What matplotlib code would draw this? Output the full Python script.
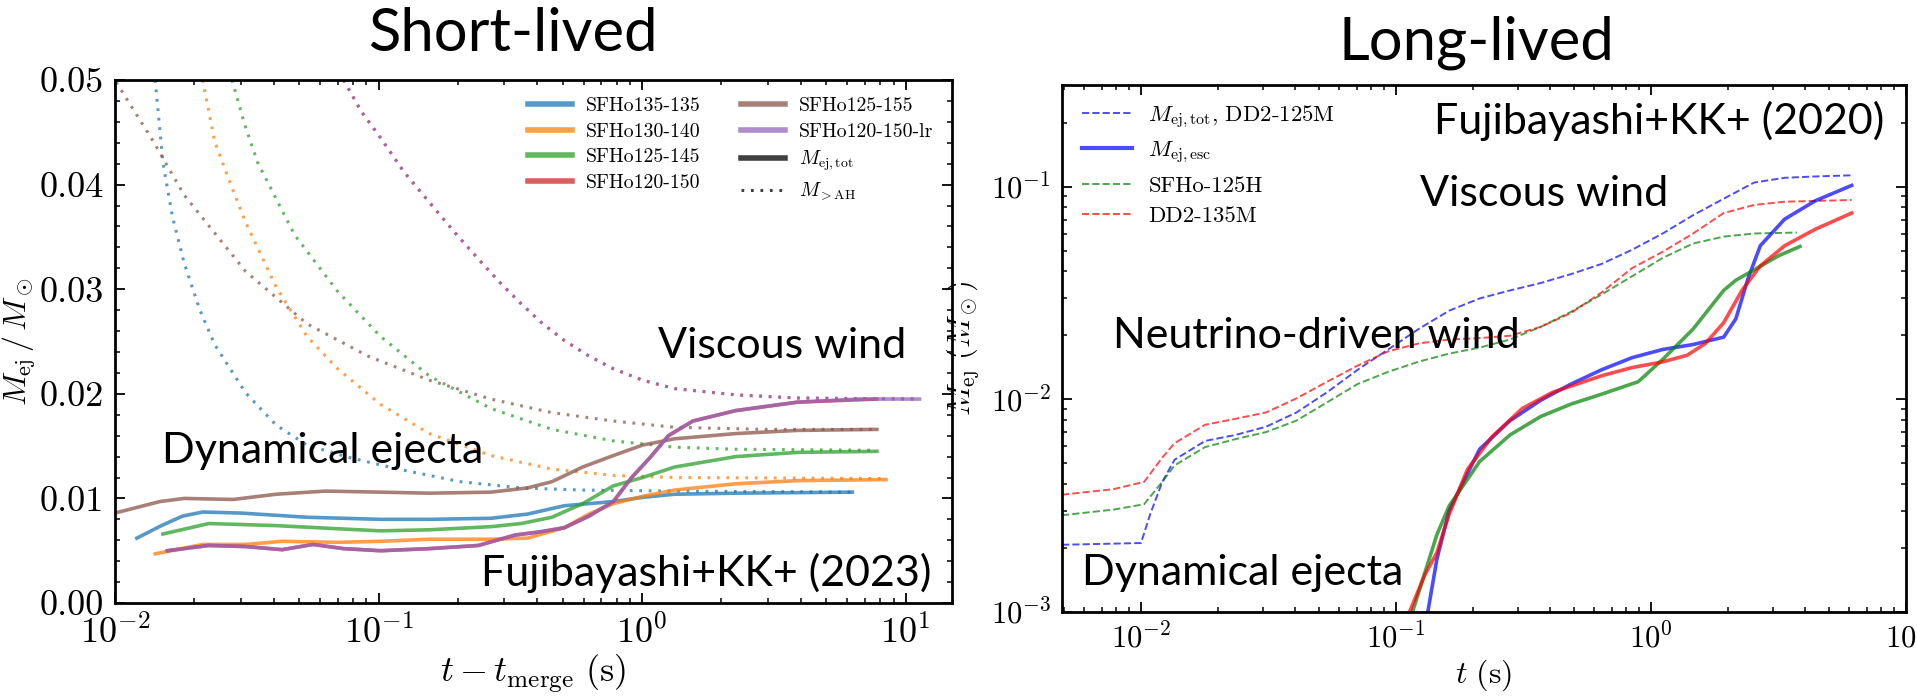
import matplotlib
matplotlib.use("Agg")
import matplotlib.pyplot as plt
from matplotlib.patches import Rectangle
from matplotlib.ticker import MultipleLocator, FuncFormatter

plt.rcParams['font.family'] = 'serif'
plt.rcParams['font.serif'] = ['cmr10', 'DejaVu Serif']
plt.rcParams['mathtext.fontset'] = 'cm'
plt.rcParams['axes.formatter.use_mathtext'] = True
plt.rcParams['axes.unicode_minus'] = False

# ---- short-lived (left) : solid = M_ej,tot, dotted = M_>AH ----
sfho135_t = [0.0121, 0.0150, 0.0180, 0.0215, 0.030, 0.0535, 0.1016, 0.156, 0.267, 0.367, 0.507, 0.778, 1.005, 1.328, 2.27, 6.28]
sfho135_m = [0.0062, 0.0074, 0.0083, 0.0087, 0.0086, 0.0082, 0.0080, 0.0080, 0.0081, 0.0085, 0.0093, 0.0097, 0.0101, 0.0104, 0.0105, 0.0106]
sfho130_t = [0.0142, 0.0215, 0.0313, 0.0431, 0.0699, 0.1016, 0.156, 0.267, 0.367, 0.507, 0.628, 0.778, 1.005, 1.328, 2.27, 3.88, 8.43]
sfho130_m = [0.0047, 0.0056, 0.0056, 0.0059, 0.0058, 0.0059, 0.0061, 0.0061, 0.0062, 0.0072, 0.0085, 0.0095, 0.0102, 0.0108, 0.0114, 0.0117, 0.0118]
sfho125_t = [0.0152, 0.0227, 0.0409, 0.0699, 0.1016, 0.156, 0.267, 0.348, 0.455, 0.595, 0.778, 1.005, 1.328, 1.736, 2.27, 3.88, 7.78]
sfho125_m = [0.0066, 0.0076, 0.0074, 0.0071, 0.0069, 0.0070, 0.0073, 0.0076, 0.0082, 0.0095, 0.0112, 0.0120, 0.0130, 0.0135, 0.0140, 0.0144, 0.0145]
sfho120_t = [0.0158, 0.0227, 0.0313, 0.0431, 0.0564, 0.0737, 0.1016, 0.156, 0.239, 0.330, 0.409, 0.507, 0.628, 0.778, 0.913, 1.072, 1.259, 1.56, 2.27, 3.88, 7.78]
sfho120_m = [0.0050, 0.0055, 0.0054, 0.0051, 0.0056, 0.0052, 0.0050, 0.0052, 0.0055, 0.0065, 0.0068, 0.0072, 0.0083, 0.0097, 0.0120, 0.0139, 0.0160, 0.0174, 0.0184, 0.0192, 0.0195]
sfho155_t = [0.0100, 0.0148, 0.0183, 0.0281, 0.0409, 0.0628, 0.1016, 0.156, 0.267, 0.367, 0.455, 0.595, 0.778, 1.005, 1.328, 2.27, 3.88, 7.78]
sfho155_m = [0.0086, 0.0097, 0.0100, 0.0099, 0.0104, 0.0107, 0.0106, 0.0105, 0.0106, 0.0110, 0.0116, 0.0130, 0.0141, 0.0151, 0.0157, 0.0162, 0.0165, 0.0166]
sfho120lr_t = [0.0158, 0.0227, 0.0313, 0.0431, 0.0564, 0.0737, 0.1016, 0.156, 0.239, 0.330, 0.409, 0.507, 0.628, 0.778, 0.913, 1.072, 1.259, 1.56, 2.27, 3.88, 6.62, 11.3]
sfho120lr_m = [0.0050, 0.0055, 0.0054, 0.0051, 0.0056, 0.0052, 0.0050, 0.0052, 0.0055, 0.0065, 0.0068, 0.0072, 0.0083, 0.0097, 0.0120, 0.0139, 0.0160, 0.0174, 0.0184, 0.0192, 0.0195, 0.0195]

ah135_t = [0.0142, 0.0147, 0.0152, 0.0165, 0.0183, 0.0210, 0.0239, 0.0313, 0.0409, 0.0535, 0.0777, 0.119, 0.204, 0.348, 0.595, 1.328, 6.28]
ah135_m = [0.0500, 0.0460, 0.0421, 0.0370, 0.0325, 0.0280, 0.0247, 0.0201, 0.0170, 0.0151, 0.0139, 0.0128, 0.0116, 0.0110, 0.0108, 0.0107, 0.0106]
ah130_t = [0.0215, 0.0239, 0.0275, 0.0313, 0.0409, 0.0535, 0.0699, 0.1016, 0.156, 0.267, 0.455, 0.778, 1.328, 8.43]
ah130_m = [0.0500, 0.0441, 0.0400, 0.0364, 0.0302, 0.0255, 0.0224, 0.0190, 0.0162, 0.0141, 0.0128, 0.0122, 0.0120, 0.0119]
ah125_t = [0.0278, 0.0310, 0.0348, 0.048, 0.0699, 0.1016, 0.156, 0.267, 0.455, 0.778, 1.328, 2.27, 7.78]
ah125_m = [0.0500, 0.0458, 0.0421, 0.0352, 0.0298, 0.0255, 0.0217, 0.0186, 0.0166, 0.0155, 0.0149, 0.0147, 0.0146]
ah155_t = [0.0101, 0.0140, 0.0183, 0.0313, 0.0535, 0.0913, 0.156, 0.267, 0.455, 0.778, 1.328, 2.96, 7.78]
ah155_m = [0.0498, 0.0441, 0.0390, 0.0317, 0.0267, 0.0236, 0.0213, 0.0195, 0.0182, 0.0174, 0.0168, 0.0166, 0.0166]
ah120_t = [0.0737, 0.0860, 0.1016, 0.125, 0.156, 0.195, 0.239, 0.290, 0.348, 0.420, 0.507, 0.630, 0.778, 1.005, 1.328, 2.27, 3.88, 11.3]
ah120_m = [0.0500, 0.0470, 0.0445, 0.0412, 0.0383, 0.0354, 0.0329, 0.0306, 0.0286, 0.0267, 0.0251, 0.0236, 0.0224, 0.0213, 0.0205, 0.0199, 0.0196, 0.0195]

short_labels = ['SFHo135-135', 'SFHo130-140', 'SFHo125-145', 'SFHo120-150', 'SFHo125-155', 'SFHo120-150-lr']
short_colors = ['tab:blue', 'tab:orange', 'tab:green', 'tab:red', 'tab:brown', 'tab:purple']

# ---- long-lived (right) ----
dd2_125_tot_t = [0.0049, 0.0100, 0.01086, 0.01213, 0.01354, 0.01783, 0.0235, 0.0309, 0.0407, 0.0537, 0.0707, 0.0931, 0.1226, 0.1615, 0.2128, 0.280, 0.369, 0.486, 0.640, 0.843, 1.111, 1.462, 1.926, 2.537, 3.341, 4.40, 6.12]
dd2_125_tot_m = [0.00207, 0.00211, 0.00288, 0.0041, 0.0052, 0.00637, 0.0068, 0.00743, 0.00867, 0.0108, 0.01377, 0.01715, 0.0214, 0.0261, 0.0298, 0.0325, 0.0352, 0.0388, 0.0433, 0.0505, 0.0602, 0.0734, 0.0877, 0.1045, 0.110, 0.1116, 0.113]
sfho_125h_tot_t = [0.0049, 0.0078, 0.01028, 0.01213, 0.01354, 0.01783, 0.0235, 0.0309, 0.0407, 0.0537, 0.0707, 0.0931, 0.1226, 0.1615, 0.2128, 0.280, 0.369, 0.486, 0.640, 0.843, 1.111, 1.462, 1.926, 2.537, 3.731]
sfho_125h_tot_m = [0.00285, 0.00303, 0.00321, 0.0041, 0.00489, 0.00596, 0.0065, 0.00701, 0.00794, 0.00968, 0.0118, 0.01346, 0.01503, 0.0164, 0.0175, 0.0191, 0.0219, 0.0258, 0.0311, 0.0379, 0.0462, 0.054, 0.0582, 0.0602, 0.0608]
dd2_135_tot_t = [0.0049, 0.0078, 0.01028, 0.01213, 0.01354, 0.01783, 0.0235, 0.0309, 0.0407, 0.0537, 0.0707, 0.0931, 0.1226, 0.1615, 0.2128, 0.280, 0.369, 0.486, 0.640, 0.843, 1.111, 1.462, 1.926, 2.537, 3.341, 6.12]
dd2_135_tot_m = [0.00356, 0.00378, 0.00409, 0.00533, 0.00622, 0.00759, 0.0081, 0.00867, 0.0101, 0.0121, 0.0144, 0.0168, 0.0183, 0.0191, 0.0194, 0.0199, 0.0219, 0.0255, 0.0318, 0.0414, 0.0494, 0.0602, 0.0751, 0.082, 0.0849, 0.0865]

dd2_125_esc_t = [0.1332, 0.1446, 0.1615, 0.2128, 0.280, 0.369, 0.486, 0.640, 0.843, 1.111, 1.462, 1.926, 2.150, 2.401, 2.681, 3.341, 4.40, 6.12]
dd2_125_esc_m = [0.0010, 0.00177, 0.0030, 0.00583, 0.00794, 0.00989, 0.0118, 0.01377, 0.0157, 0.01715, 0.0181, 0.0196, 0.0239, 0.0370, 0.0527, 0.0703, 0.0857, 0.1013]
sfho_125h_esc_t = [0.116, 0.1446, 0.1615, 0.2128, 0.280, 0.369, 0.486, 0.640, 0.891, 1.111, 1.462, 1.926, 2.150, 2.537, 3.162, 3.835]
sfho_125h_esc_m = [0.0010, 0.00231, 0.00315, 0.0051, 0.0068, 0.0083, 0.0095, 0.01057, 0.0121, 0.0154, 0.0214, 0.0325, 0.0363, 0.0406, 0.0473, 0.0523]
dd2_135_esc_t = [0.1129, 0.1295, 0.1446, 0.1615, 0.1905, 0.2375, 0.3127, 0.412, 0.640, 0.843, 1.111, 1.384, 1.633, 1.926, 2.272, 2.681, 3.341, 4.40, 6.12]
dd2_135_esc_m = [0.0010, 0.00149, 0.0019, 0.00288, 0.00468, 0.00665, 0.00906, 0.0108, 0.0129, 0.0141, 0.0150, 0.0161, 0.0183, 0.0229, 0.0325, 0.0424, 0.0527, 0.063, 0.0751]

ANNOT_FONT = 'Lato'
ANNOT_SIZE = 31
DOTS = (0, (0.9, 2.2))


def style_axes(ax, labelsize):
    for sp in ax.spines.values():
        sp.set_linewidth(2.0)
    ax.tick_params(which='both', direction='in', top=True, right=True, labelsize=labelsize, pad=8)
    ax.tick_params(which='major', length=7, width=1.3)
    ax.tick_params(which='minor', length=3.5, width=1.1)


fig = plt.figure(figsize=(19.17, 6.96), dpi=100)
ax1 = fig.add_axes([0.060, 0.1336, 0.4366, 0.7514])
ax2 = fig.add_axes([0.554, 0.1207, 0.4403, 0.757])

# left panel
short_t = [sfho135_t, sfho130_t, sfho125_t, sfho120_t, sfho155_t, sfho120lr_t]
short_m = [sfho135_m, sfho130_m, sfho125_m, sfho120_m, sfho155_m, sfho120lr_m]
ah_t = [ah135_t, ah130_t, ah125_t, ah120_t, ah155_t, ah120_t]
ah_m = [ah135_m, ah130_m, ah125_m, ah120_m, ah155_m, ah120_m]
for t, m, at, am, c, lab in zip(short_t, short_m, ah_t, ah_m, short_colors, short_labels):
    ax1.plot(t, m, color=c, lw=2.6, alpha=0.75, label=lab)
    ax1.plot(at, am, color=c, lw=2.2, alpha=0.75, ls=DOTS)
ax1.plot([], [], color='k', lw=2.6, alpha=0.75, label=r'$M_{\rm ej,tot}$')
ax1.plot([], [], color='k', lw=2.2, alpha=0.75, ls=DOTS, label=r'$M_{\rm >AH}$')

ax1.set_xscale('log')
ax1.set_xlim(0.01, 15)
ax1.set_ylim(0, 0.05)
ax1.yaxis.set_major_locator(MultipleLocator(0.01))
ax1.yaxis.set_minor_locator(MultipleLocator(0.002))
ax1.yaxis.set_major_formatter(FuncFormatter(lambda v, p: '%.2f' % v))
style_axes(ax1, 26)
ax1.set_xlabel(r'$t - t_{\rm merge}\ ({\rm s})$', fontsize=26, labelpad=2)
ax1.set_ylabel(r'$M_{\rm ej}\,/\,M_\odot$', fontsize=23, labelpad=1)
leg1 = ax1.legend(ncol=2, loc='upper left', bbox_to_anchor=(0.493, 0.968), frameon=False,
                  fontsize=14.3, handlelength=2.25, handletextpad=0.7, labelspacing=0.4,
                  columnspacing=2.0, borderpad=0, borderaxespad=0)
for h in leg1.get_lines()[:-1]:
    h.set_linewidth(4)

ax1.text(0.797, 0.491, 'Viscous wind', transform=ax1.transAxes, ha='center', va='center',
         family=ANNOT_FONT, fontsize=ANNOT_SIZE)
ax1.text(0.248, 0.291, 'Dynamical ejecta', transform=ax1.transAxes, ha='center', va='center',
         family=ANNOT_FONT, fontsize=ANNOT_SIZE)
ax1.text(0.706, 0.057, 'Fujibayashi+KK+ (2023)', transform=ax1.transAxes, ha='center', va='center',
         family=ANNOT_FONT, fontsize=ANNOT_SIZE)

# right panel
ax2.plot(dd2_125_tot_t, dd2_125_tot_m, color='b', lw=1.4, alpha=0.7, ls='--', label=r'$M_{\rm ej,tot}$, DD2-125M')
ax2.plot([], [], color='b', lw=3, alpha=0.7, label=r'$M_{\rm ej,esc}$')
ax2.plot(sfho_125h_tot_t, sfho_125h_tot_m, color='g', lw=1.4, alpha=0.7, ls='--', label='SFHo-125H')
ax2.plot(dd2_135_tot_t, dd2_135_tot_m, color='r', lw=1.4, alpha=0.7, ls='--', label='DD2-135M')
ax2.plot(dd2_125_esc_t, dd2_125_esc_m, color='b', lw=2.6, alpha=0.7)
ax2.plot(sfho_125h_esc_t, sfho_125h_esc_m, color='g', lw=2.6, alpha=0.7)
ax2.plot(dd2_135_esc_t, dd2_135_esc_m, color='r', lw=2.6, alpha=0.7)

ax2.set_xscale('log')
ax2.set_yscale('log')
ax2.set_xlim(0.0049, 10)
ax2.set_ylim(1e-3, 0.3)
style_axes(ax2, 22)
ax2.set_xlabel(r'$t\ ({\rm s})$', fontsize=23, labelpad=2)
ax2.set_ylabel(r'$M_{\rm ej}\ (M_\odot)$', fontsize=22, labelpad=7)
ax2.legend(loc='upper left', bbox_to_anchor=(0.024, 0.966), frameon=False, fontsize=16.4,
           handlelength=2.2, handletextpad=0.7, labelspacing=0.45, borderpad=0, borderaxespad=0)

ax2.text(0.707, 0.932, 'Fujibayashi+KK+ (2020)', transform=ax2.transAxes, ha='center', va='center',
         family=ANNOT_FONT, fontsize=ANNOT_SIZE)
ax2.text(0.571, 0.793, 'Viscous wind', transform=ax2.transAxes, ha='center', va='center',
         family=ANNOT_FONT, fontsize=ANNOT_SIZE)
ax2.text(0.3015, 0.524, 'Neutrino-driven wind', transform=ax2.transAxes, ha='center', va='center',
         family=ANNOT_FONT, fontsize=ANNOT_SIZE)
ax2.text(0.214, 0.074, 'Dynamical ejecta', transform=ax2.transAxes, ha='center', va='center',
         family=ANNOT_FONT, fontsize=ANNOT_SIZE)

# panel titles
fig.text(0.2676, 0.951, 'Short-lived', ha='center', va='center', family=ANNOT_FONT, fontsize=43)
fig.text(0.770, 0.938, 'Long-lived', ha='center', va='center', family=ANNOT_FONT, fontsize=43)

# the right image's y label is partly hidden behind the left image
fig.patches.append(Rectangle((0.4985, 0.10), 0.0030, 0.80, transform=fig.transFigure,
                             facecolor='white', edgecolor='none', zorder=5))

fig.savefig('out.png', dpi=100)
